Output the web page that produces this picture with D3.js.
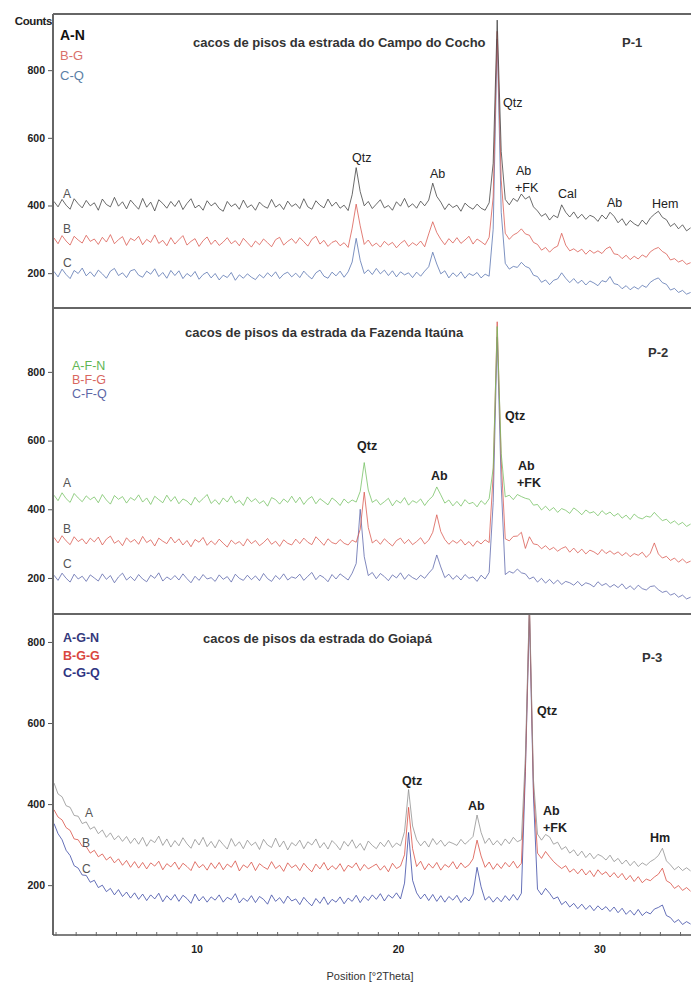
<!DOCTYPE html>
<html><head><meta charset="utf-8">
<script src="https://cdn.jsdelivr.net/npm/d3@7"></script>
<style>
html,body{margin:0;padding:0;background:#fff;}
svg{display:block;font-family:"Liberation Sans",Arial,Helvetica,sans-serif;}
</style></head><body>
<svg id="chart" width="691" height="982"></svg>
<script>
// XRD scan grid, °2θ
const scanStart = 2.9, scanStep = 0.2;

// P-1 : cacos de pisos da estrada do Campo do Cocho (counts)
const p1A = [
412,396,418,401,389,420,405,393,415,399,
408,386,419,403,396,424,398,411,390,416,
402,389,421,395,410,384,417,406,392,412,
397,415,388,406,420,393,401,386,414,399,
408,391,383,412,397,405,389,416,394,402,
386,410,398,392,418,395,404,388,413,397,
405,391,420,396,389,414,401,393,419,398,
410,392,401,385,432,512,441,399,412,391,
404,417,393,400,386,411,398,421,395,405,
392,413,399,416,466,427,410,388,405,394,
401,383,407,396,389,404,392,386,408,525,
948,560,418,402,421,412,434,419,427,396,
384,368,376,357,371,364,402,380,366,381,
362,374,359,371,366,353,372,360,380,368,
349,361,341,356,346,339,357,344,363,374,
383,365,358,338,347,331,343,325,334];
const p1B = [
304,287,311,295,283,309,298,289,312,294,
301,285,306,292,314,287,299,308,282,303,
296,309,284,300,291,313,288,297,281,305,
286,299,311,283,294,302,279,296,307,285,
298,282,292,305,287,296,281,303,290,277,
295,284,301,290,278,299,306,283,294,302,
288,305,293,280,300,309,286,297,279,291,
296,281,290,276,333,404,340,285,298,280,
289,277,294,283,291,275,288,297,279,290,
282,295,278,316,352,320,300,284,302,289,
305,288,298,309,286,301,293,284,306,425,
915,475,318,300,313,319,331,316,312,291,
285,268,276,262,274,280,318,283,266,272,
263,271,256,268,259,266,258,272,278,257,
255,243,253,240,250,242,254,247,263,271,
276,264,257,239,243,233,238,226,231];
const p1C = [
205,189,212,196,184,208,199,215,192,204,
190,209,198,185,206,214,193,201,187,207,
211,194,188,206,197,213,190,202,185,208,
193,207,184,199,190,205,182,196,203,186,
199,180,194,187,202,179,195,185,198,188,
181,196,186,201,190,204,184,197,203,189,
200,187,206,193,183,201,209,191,185,203,
192,206,188,204,233,303,238,199,210,196,
214,198,209,193,207,189,204,195,201,187,
203,191,206,219,262,227,198,207,186,201,
190,204,185,199,193,202,186,197,191,330,
892,380,229,212,220,217,232,220,215,194,
190,173,180,166,179,183,201,185,172,184,
170,179,165,177,171,163,178,174,190,169,
166,154,163,151,160,153,164,158,173,181,
186,172,167,150,155,143,149,138,143];

// P-2 : cacos de pisos da estrada da Fazenda Itaúna
const p2A = [
441,425,448,431,420,446,433,422,439,428,
436,419,443,427,415,440,429,437,418,434,
426,442,421,433,414,438,428,419,441,423,
437,416,430,424,412,435,420,431,443,417,
428,414,433,421,439,418,426,411,436,422,
431,417,425,409,434,428,415,430,420,438,
419,435,414,429,437,416,431,422,413,433,
424,411,430,418,427,421,452,536,456,420,
428,413,422,432,410,426,418,434,412,425,
419,430,411,427,438,465,442,418,427,410,
423,409,428,416,420,407,425,414,431,520,
932,562,436,441,428,443,437,432,429,412,
414,398,409,396,405,391,402,397,388,404,
395,384,398,389,393,381,396,385,392,380,
388,374,383,370,386,376,372,380,377,391,
378,367,371,359,366,355,362,350,357];
const p2B = [
318,302,323,308,297,320,306,314,299,316,
305,319,296,313,322,301,309,294,317,304,
312,298,321,303,311,293,316,307,300,319,
302,314,296,309,291,312,304,318,295,308,
297,313,301,290,310,299,306,293,314,300,
309,294,303,315,298,307,292,311,301,296,
313,300,316,304,297,320,308,295,314,303,
299,312,301,296,310,304,342,450,347,302,
311,298,314,303,293,309,316,300,312,297,
306,317,299,310,333,384,335,312,298,309,
301,312,296,306,292,308,299,311,303,500,
946,540,314,308,321,322,333,286,320,299,
297,285,294,282,289,278,286,291,275,287,
273,284,270,281,276,268,283,271,279,269,
276,265,274,262,271,266,275,260,272,302,
270,258,263,251,258,246,255,244,249];
const p2C = [
208,193,214,199,188,211,197,205,190,209,
200,191,212,196,207,186,203,214,194,204,
192,210,197,189,208,199,215,191,203,195,
207,194,212,198,186,205,193,210,197,201,
190,209,196,204,188,211,199,193,208,195,
206,192,213,198,190,207,196,212,194,203,
199,211,193,205,216,195,208,201,189,210,
197,212,203,194,214,242,400,262,207,216,
198,213,204,192,209,200,215,196,210,201,
195,208,199,214,227,267,232,201,211,196,
207,194,210,199,203,190,208,197,216,420,
902,470,210,219,214,226,215,212,197,203,
188,199,185,196,183,194,181,190,186,179,
190,177,186,182,174,189,178,184,173,181,
172,183,168,177,166,179,169,165,175,177,
166,158,162,150,155,144,150,139,144];

// P-3 : cacos de pisos da estrada do Goiapá
const p3A = [
452,425,418,396,392,372,370,352,356,338,
344,327,336,318,329,312,322,308,320,303,
316,301,318,296,312,305,321,298,314,294,
310,297,317,302,291,313,299,318,295,308,
292,312,300,289,315,296,307,290,311,298,
306,288,313,299,293,316,294,309,287,305,
297,311,290,307,299,314,292,305,289,310,
300,287,308,296,312,291,303,286,309,298,
290,306,295,311,293,304,297,332,436,346,
312,297,309,294,315,300,311,296,307,303,
298,313,301,310,320,373,330,303,316,299,
310,298,314,302,318,307,312,520,900,460,
326,311,325,319,301,306,288,295,279,287,
272,284,268,279,265,276,271,262,274,258,
266,252,262,248,259,246,255,249,258,264,
273,291,260,250,238,246,236,243,235];
const p3B = [
386,368,361,342,335,314,312,296,295,279,
286,270,277,262,270,255,265,249,261,244,
258,242,256,240,255,247,259,238,253,245,
257,239,254,246,236,258,243,251,237,255,
241,256,238,252,244,260,235,250,243,257,
236,253,245,239,258,241,249,234,255,243,
250,236,254,242,233,252,240,256,237,248,
239,253,234,249,243,255,236,251,240,246,
252,237,248,233,254,241,247,275,392,290,
246,259,238,253,242,256,237,251,244,258,
240,255,243,250,265,311,272,244,257,239,
253,241,256,245,259,242,254,490,890,440,
279,266,283,270,258,249,241,248,232,240,
228,240,225,236,221,238,226,233,220,231,
218,229,213,224,209,221,206,215,211,220,
227,242,211,205,192,199,187,194,185];
const p3C = [
352,327,312,286,273,248,242,225,224,207,
212,194,200,184,192,176,189,172,183,168,
181,165,178,162,176,166,180,159,174,163,
177,160,175,167,155,178,161,172,158,171,
163,176,158,170,164,179,156,168,160,174,
157,172,165,153,176,160,169,155,173,161,
166,152,170,158,149,167,155,171,152,165,
158,171,154,168,160,175,157,172,162,176,
165,179,161,176,168,181,166,205,330,212,
181,166,178,162,177,160,174,158,172,163,
175,157,170,161,178,244,196,163,172,158,
170,159,174,162,177,163,180,480,870,420,
190,176,192,180,166,171,152,160,146,155,
142,153,140,150,137,149,139,147,135,146,
132,143,128,138,126,140,125,134,129,141,
145,151,125,120,108,115,103,110,104];

const yTickValues = [200, 400, 600, 800];
const xTickValues = [10, 20, 30];
const xMinorTicks = d3.range(3, 35);

const titles = [
  "cacos de pisos da estrada do Campo do Cocho",
  "cacos de pisos da estrada da Fazenda Itaúna",
  "cacos de pisos da estrada do Goiapá"
];
const panelTags = ["P-1", "P-2", "P-3"];
const legends = [["A-N", "B-G", "C-Q"], ["A-F-N", "B-F-G", "C-F-Q"], ["A-G-N", "B-G-G", "C-G-Q"]];
const traceLetters = ["A", "B", "C"];
const series = [[p1A, p1B, p1C], [p2A, p2B, p2C], [p3A, p3B, p3C]];

// phase annotations: [label, x, baseline]
const peakLabels = [
  [["Qtz", 503, 107], ["Qtz", 352, 162], ["Ab", 430, 178], ["Ab", 516, 175], ["+FK", 515, 192],
   ["Cal", 558, 198], ["Ab", 607, 207], ["Hem", 652, 208]],
  [["Qtz", 505, 420], ["Qtz", 357, 450], ["Ab", 431, 480], ["Ab", 518, 470], ["+FK", 517, 487]],
  [["Qtz", 537, 715], ["Qtz", 402, 785], ["Ab", 468, 810], ["Ab", 543, 815], ["+FK", 543, 832], ["Hm", 650, 842]]
];

// ---- layout ----
const left = 53, right = 691;
const panels = [
  { top: 14,  bottom: 307, dom: [100, 966],
    colors: ["#3c3c3c", "#d9564c", "#5470ad"],
    legendColors: ["#111", "#d9716b", "#5b7fa6"], legendWeight: ["bold", "normal", "normal"],
    legendSize: [14, 13, 13], legendX: 60, legendY: [40, 60, 80],
    titleX: 193, titleY: 47, tagX: 622, tagY: 47, labelBold: false,
    letters: [[63, 198], [63, 233], [63, 267]] },
  { top: 308, bottom: 613, dom: [98, 986],
    colors: ["#72c060", "#d9564c", "#5862a8"],
    legendColors: ["#5fb654", "#d9675f", "#5d67a6"], legendWeight: ["normal", "normal", "normal"],
    legendSize: [12.5, 12.5, 12.5], legendX: 72, legendY: [370, 384, 398],
    titleX: 185, titleY: 337, tagX: 648, tagY: 357, labelBold: true,
    letters: [[63, 487], [63, 533], [63, 568]] },
  { top: 614, bottom: 935, dom: [77, 869],
    colors: ["#8c8c8c", "#d84a3e", "#3443a2"],
    legendColors: ["#34397c", "#d9473f", "#2f3582"], legendWeight: ["bold", "bold", "bold"],
    legendSize: [12.5, 12.5, 12.5], legendX: 63, legendY: [642, 660, 677],
    titleX: 203, titleY: 643, tagX: 642, tagY: 662, labelBold: true,
    letters: [[85, 817], [82, 847], [82, 873]] }
];

const svg = d3.select("#chart");
svg.append("rect").attr("width", 691).attr("height", 982).attr("fill", "#fff");

const x = d3.scaleLinear().domain([2.85, 34.52]).range([left, right]);

svg.append("text").attr("x", 52).attr("y", 25).attr("text-anchor", "end")
  .attr("font-size", 11.5).attr("font-weight", "bold").attr("fill", "#222")
  .attr("letter-spacing", -0.4).text("Counts");

const defs = svg.append("defs");

panels.forEach((p, pi) => {
  const y = d3.scaleLinear().domain(p.dom).range([p.bottom, p.top]);
  const g = svg.append("g");

  defs.append("clipPath").attr("id", "clip" + pi)
    .append("rect").attr("x", left).attr("y", p.top).attr("width", right - left).attr("height", p.bottom - p.top);

  const line = d3.line()
    .x((d, i) => x(scanStart + i * scanStep))
    .y(d => y(d));

  const plot = g.append("g").attr("clip-path", `url(#clip${pi})`);
  series[pi].slice().reverse().forEach((s, k) => {
    const si = 2 - k;
    plot.append("path").datum(s).attr("d", line)
      .attr("fill", "none").attr("stroke", p.colors[si]).attr("stroke-width", 0.85)
      .attr("stroke-linejoin", "round").attr("opacity", 0.9);
  });

  // frame: top border
  g.append("line").attr("x1", left).attr("x2", right).attr("y1", p.top).attr("y2", p.top)
    .attr("stroke", "#666").attr("stroke-width", 2);

  // y axis
  const yAxis = d3.axisLeft(y).tickValues(yTickValues).tickSize(5).tickPadding(3);
  const ya = g.append("g").attr("transform", `translate(${left},0)`).call(yAxis);
  ya.select(".domain").remove();
  ya.selectAll(".tick line").attr("stroke", "#555");
  ya.selectAll(".tick text").attr("font-size", 10.5).attr("font-weight", "bold")
    .attr("fill", "#222").attr("font-family", null);

  // title, tag
  g.append("text").attr("x", p.titleX).attr("y", p.titleY).attr("font-size", 13)
    .attr("font-weight", "bold").attr("fill", "#333").text(titles[pi]);
  g.append("text").attr("x", p.tagX).attr("y", p.tagY).attr("font-size", 13)
    .attr("font-weight", "bold").attr("fill", "#333").text(panelTags[pi]);

  // legend
  legends[pi].forEach((t, k) => {
    g.append("text").attr("x", p.legendX).attr("y", p.legendY[k])
      .attr("font-size", p.legendSize[k]).attr("font-weight", p.legendWeight[k])
      .attr("fill", p.legendColors[k]).text(t);
  });

  // trace letters
  traceLetters.forEach((t, k) => {
    g.append("text").attr("x", p.letters[k][0]).attr("y", p.letters[k][1])
      .attr("font-size", 12).attr("fill", "#555").text(t);
  });

  // phase labels
  peakLabels[pi].forEach(([t, lx, ly]) => {
    g.append("text").attr("x", lx).attr("y", ly).attr("font-size", 12.5)
      .attr("font-weight", p.labelBold ? "bold" : "normal").attr("fill", "#222").text(t);
  });
});

// left axis line through all panels
svg.append("line").attr("x1", left).attr("x2", left).attr("y1", 14).attr("y2", 935)
  .attr("stroke", "#666").attr("stroke-width", 2);

// bottom x axis
const xa = svg.append("g").attr("transform", "translate(0,935)");
xa.append("line").attr("x1", left).attr("x2", right).attr("stroke", "#555").attr("stroke-width", 1.6);
xa.selectAll(".minor").data(xMinorTicks).join("line")
  .attr("x1", d => x(d)).attr("x2", d => x(d)).attr("y1", -3).attr("y2", 1)
  .attr("stroke", "#666").attr("stroke-width", 1);
xa.selectAll(".lbl").data(xTickValues).join("text")
  .attr("x", d => x(d)).attr("y", 18).attr("text-anchor", "middle")
  .attr("font-size", 10.5).attr("font-weight", "bold").attr("fill", "#222").text(d => d);

svg.append("text").attr("x", 370).attr("y", 980).attr("text-anchor", "middle")
  .attr("font-size", 11).attr("fill", "#333").text("Position [°2Theta]");
</script>
</body></html>
